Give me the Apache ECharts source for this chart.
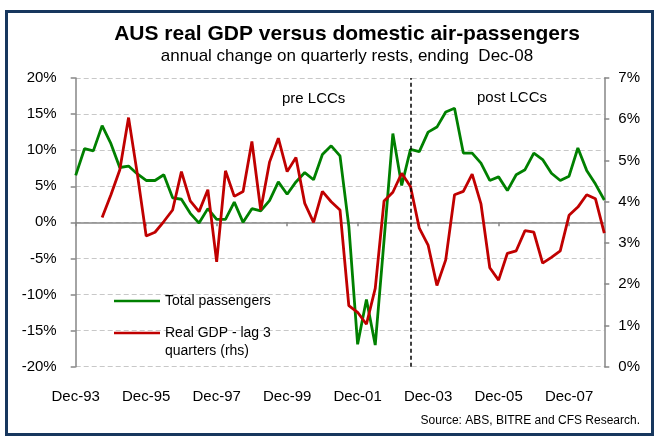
<!DOCTYPE html>
<html>
<head>
<meta charset="utf-8">
<script src="https://cdn.jsdelivr.net/npm/echarts@6/dist/echarts.min.js"></script>
<style>
html,body{margin:0;padding:0;background:#fff;}
#chart{width:657px;height:442px;}
</style>
</head>
<body>
<div id="chart"></div>
<script>
const categories = [
 'Dec-93','Mar-94','Jun-94','Sep-94','Dec-94','Mar-95','Jun-95','Sep-95',
 'Dec-95','Mar-96','Jun-96','Sep-96','Dec-96','Mar-97','Jun-97','Sep-97',
 'Dec-97','Mar-98','Jun-98','Sep-98','Dec-98','Mar-99','Jun-99','Sep-99',
 'Dec-99','Mar-00','Jun-00','Sep-00','Dec-00','Mar-01','Jun-01','Sep-01',
 'Dec-01','Mar-02','Jun-02','Sep-02','Dec-02','Mar-03','Jun-03','Sep-03',
 'Dec-03','Mar-04','Jun-04','Sep-04','Dec-04','Mar-05','Jun-05','Sep-05',
 'Dec-05','Mar-06','Jun-06','Sep-06','Dec-06','Mar-07','Jun-07','Sep-07',
 'Dec-07','Mar-08','Jun-08','Sep-08','Dec-08'
];
const totalPassengers = [
 6.5,10.2,9.9,13.4,10.9,7.6,7.8,6.7,
 5.8,5.8,6.6,3.4,3.2,1.25,-0.1,1.9,
 0.4,0.4,2.8,0.0,1.9,1.6,3.0,5.6,
 3.9,5.6,6.9,5.9,9.4,10.6,9.2,-0.5,
 -16.9,-10.7,-17.0,-2.5,12.3,5.1,10.1,9.8,
 12.5,13.2,15.3,15.8,9.6,9.6,8.2,5.8,
 6.3,4.4,6.6,7.3,9.6,8.7,6.8,5.8,
 6.4,10.3,7.2,5.3,3.1
];
const realGdpLag3 = [
 null,null,null,3.62,4.17,4.77,6.04,4.67,
 3.17,3.26,3.52,3.80,4.73,4.02,3.76,4.29,
 2.54,4.75,4.13,4.25,5.46,3.80,4.96,5.54,
 4.73,5.07,3.96,3.50,4.25,4.00,3.80,1.48,
 1.32,1.03,1.90,4.02,4.23,4.69,4.37,3.36,
 2.95,1.97,2.59,4.17,4.25,4.67,3.95,2.40,
 2.10,2.75,2.81,3.30,3.26,2.51,2.65,2.81,
 3.67,3.87,4.17,4.07,3.24
];
const lccBreakIndex = 38.2;
const leftTicks = {min:-20, max:20, interval:5};
const rightTicks = {min:0, max:7, interval:1};

const FONT = 'Liberation Sans, Arial, sans-serif';
const chart = echarts.init(document.getElementById('chart'), null, {renderer:'canvas'});
const axisGray = '#868686';

chart.setOption({
  animation:false,
  backgroundColor:'#fff',
  textStyle:{fontFamily:FONT},
  title:{
    text:'AUS real GDP versus domestic air-passengers',
    subtext:'annual change on quarterly rests, ending  Dec-08',
    left:342, top:19, textAlign:'center', itemGap:3,
    textStyle:{fontFamily:FONT,fontSize:21,fontWeight:'bold',color:'#000'},
    subtextStyle:{fontFamily:FONT,fontSize:17,color:'#000'}
  },
  grid:{left:75.7, right:52.7, top:78, bottom:75.3, containLabel:false},
  legend:[{
    data:[{name:'Total passengers'}],
    left:109, top:289, orient:'vertical',
    icon:'rect', itemWidth:46, itemHeight:2.5, itemGap:5,
    textStyle:{fontFamily:FONT,fontSize:14,color:'#000'}
  },{
    data:[{name:'Real GDP - lag 3\nquarters (rhs)'}],
    left:109, top:301, orient:'vertical',
    icon:'rect', itemWidth:46, itemHeight:2.5,
    formatter:function(name){ return ' \n' + name; },
    textStyle:{fontFamily:FONT,fontSize:14,color:'#000',lineHeight:18}
  }],
  xAxis:[{
    type:'category', data:categories, boundaryGap:false,
    axisLine:{show:true,onZero:true,onZeroAxisIndex:0,lineStyle:{color:axisGray,width:1.5}},
    axisTick:{show:true,interval:7,length:4,lineStyle:{color:axisGray,width:1.5}},
    axisLabel:{show:false},
    splitLine:{show:false}
  },{
    type:'category', data:categories, boundaryGap:false, position:'bottom',
    axisLine:{show:false,onZero:false}, axisTick:{show:false},
    axisLabel:{show:true,interval:7,margin:23,fontSize:15,color:'#000',fontFamily:FONT},
    splitLine:{show:false}
  }],
  yAxis:[{
    type:'value', position:'left', min:leftTicks.min, max:leftTicks.max, interval:leftTicks.interval,
    axisLine:{show:true,lineStyle:{color:axisGray,width:1.5}},
    axisTick:{show:true,length:5,lineStyle:{color:axisGray,width:1.5}},
    axisLabel:{formatter:'{value}%',margin:19,fontSize:15,color:'#000',fontFamily:FONT},
    splitLine:{show:true,lineStyle:{color:'#C8C8C8',type:[5,3],width:1}}
  },{
    type:'value', position:'right', min:rightTicks.min, max:rightTicks.max, interval:rightTicks.interval,
    axisLine:{show:true,lineStyle:{color:axisGray,width:1.5}},
    axisTick:{show:true,length:5,lineStyle:{color:axisGray,width:1.5}},
    axisLabel:{formatter:'{value}%',margin:14,fontSize:15,color:'#000',fontFamily:FONT},
    splitLine:{show:false}
  }],
  series:[{
    name:'Total passengers', type:'line', data:totalPassengers,
    xAxisIndex:0, yAxisIndex:0, showSymbol:false, symbol:'none',
    lineStyle:{color:'#008000',width:2.8}, itemStyle:{color:'#008000'},
    z:3,
    markLine:{
      silent:true, symbol:'none', label:{show:false},
      lineStyle:{color:'#000',type:[4,3],width:1.5},
      data:[{xAxis:lccBreakIndex}]
    }
  },{
    name:'Real GDP - lag 3\nquarters (rhs)', type:'line', data:realGdpLag3,
    xAxisIndex:0, yAxisIndex:1, showSymbol:false, symbol:'none', connectNulls:false,
    lineStyle:{color:'#C00000',width:2.8}, itemStyle:{color:'#C00000'},
    z:4
  }],
  graphic:[
    {type:'rect', left:4, top:9, shape:{x:0,y:0,width:646,height:423},
     style:{fill:'none',stroke:'#17375E',lineWidth:3}, z:100, silent:true},
    {type:'text', left:282, top:91, style:{text:'pre LCCs',font:'15px '+FONT,fill:'#000'}},
    {type:'text', left:477, top:90, style:{text:'post LCCs',font:'15px '+FONT,fill:'#000'}},
    {type:'text', right:17, top:415, style:{text:'Source: ABS, BITRE and CFS Research.',font:'12px '+FONT,fill:'#000'}}
  ]
});
</script>
</body>
</html>
